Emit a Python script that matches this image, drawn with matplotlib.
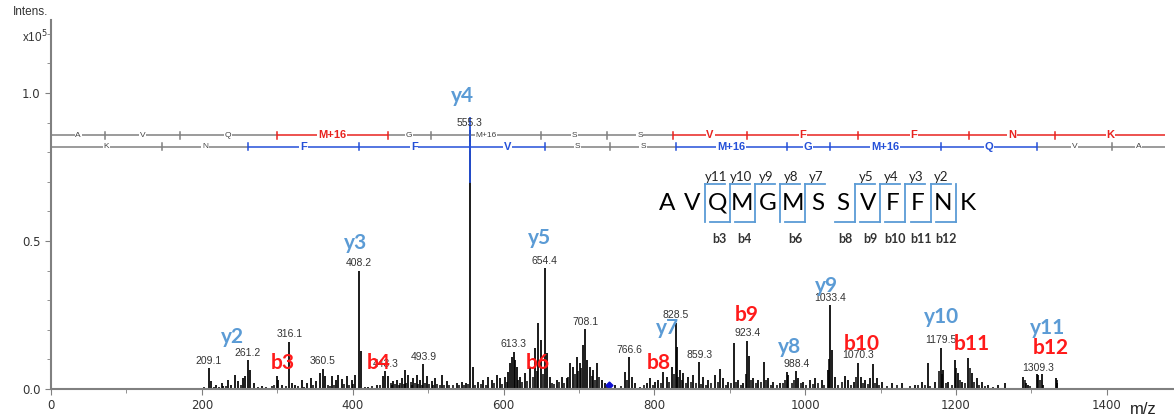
import numpy as np
import matplotlib.pyplot as plt
from matplotlib.ticker import MultipleLocator

# ---- data: peaks (m/z, intensity in 1e5) ----
main_mz = [209.1, 212.3, 218.5, 226.4, 228.6, 235.3, 238.8, 244.1, 248.5, 255.1, 257.4, 261.2, 264.0, 269.7,
           279.5, 299.3, 301.6, 306.9, 316.1, 319.2, 323.7, 332.5, 339.1, 344.9, 351.1, 356.8, 360.5, 363.4,
           372.3, 377.6, 381.1, 385.5, 392.2, 398.8, 403.2, 408.2, 411.2, 420.9, 431.9, 440.8, 443.3, 447.4,
           454.0, 458.5, 465.1, 469.5, 473.9, 480.5, 485.0, 489.4, 493.9, 498.2, 504.9, 509.3, 518.1, 524.7,
           538.0, 544.6, 550.4, 555.3, 559.2, 566.7, 573.4, 580.0, 584.4, 591.0, 595.5, 602.1, 606.5, 608.7,
           611.0, 613.3, 615.4, 617.6, 622.0, 628.6, 635.2, 641.9, 646.3, 649.4, 654.4, 657.3, 661.8, 670.6,
           677.2, 683.9, 688.3, 691.8, 697.1, 701.5, 705.1, 708.1, 711.3, 714.8, 719.2, 723.6, 730.3, 734.7,
           747.9, 761.2, 766.6, 770.0, 774.5, 790.0, 794.4, 801.0, 805.4, 812.0, 816.4, 823.1, 828.5, 829.7,
           834.1, 838.6, 845.2, 851.8, 859.3, 865.1, 871.7, 880.5, 887.2, 891.6, 898.2, 905.7, 911.5, 918.1,
           923.4, 926.0, 931.4, 938.0, 945.9, 951.2, 957.9, 966.7, 975.6, 977.8, 988.4, 991.0, 997.7, 1006.5,
           1013.1, 1021.9, 1029.9, 1033.4, 1036.1, 1039.6, 1052.9, 1057.3, 1065.3, 1070.3, 1074.1, 1079.4,
           1086.0, 1089.6, 1094.9, 1101.5, 1114.8, 1128.0, 1145.7, 1154.6, 1162.5, 1172.2, 1179.5, 1183.3,
           1189.9, 1198.7, 1202.3, 1207.6, 1216.4, 1220.9, 1227.5, 1234.1, 1242.9, 1256.2, 1265.1, 1289.4,
           1292.9, 1295.1, 1307.0, 1309.3, 1313.7, 1315.9, 1332.7, 1334.4]
main_int = [0.071, 0.026, 0.015, 0.020, 0.010, 0.032, 0.015, 0.048, 0.026, 0.037, 0.045, 0.097, 0.065, 0.020,
            0.011, 0.043, 0.030, 0.015, 0.160, 0.020, 0.015, 0.030, 0.020, 0.037, 0.026, 0.054, 0.069, 0.043,
            0.043, 0.030, 0.048, 0.034, 0.043, 0.030, 0.048, 0.400, 0.127, 0.007, 0.015, 0.043, 0.060, 0.043,
            0.026, 0.030, 0.037, 0.065, 0.048, 0.037, 0.048, 0.030, 0.084, 0.043, 0.026, 0.037, 0.048, 0.026,
            0.019, 0.025, 0.021, 0.875, 0.075, 0.025, 0.030, 0.042, 0.030, 0.047, 0.036, 0.042, 0.059, 0.087,
            0.109, 0.126, 0.098, 0.075, 0.042, 0.053, 0.075, 0.137, 0.224, 0.166, 0.408, 0.120, 0.042, 0.030,
            0.042, 0.036, 0.087, 0.075, 0.109, 0.087, 0.149, 0.202, 0.098, 0.075, 0.064, 0.087, 0.030, 0.019,
            0.014, 0.059, 0.107, 0.042, 0.019, 0.019, 0.036, 0.025, 0.030, 0.059, 0.042, 0.075, 0.224, 0.143,
            0.064, 0.053, 0.042, 0.047, 0.090, 0.042, 0.030, 0.047, 0.068, 0.036, 0.025, 0.157, 0.030, 0.020,
            0.163, 0.110, 0.036, 0.030, 0.092, 0.036, 0.025, 0.020, 0.059, 0.047, 0.061, 0.036, 0.025, 0.030,
            0.036, 0.030, 0.064, 0.284, 0.132, 0.042, 0.044, 0.030, 0.025, 0.089, 0.042, 0.030,
            0.036, 0.083, 0.036, 0.025, 0.020, 0.020, 0.014, 0.025, 0.089, 0.025, 0.140, 0.064,
            0.025, 0.098, 0.053, 0.025, 0.104, 0.053, 0.036, 0.025, 0.014, 0.014, 0.019, 0.039,
            0.019, 0.014, 0.051, 0.047, 0.051, 0.014, 0.036, 0.019]

# small background peaks
noise_mz = [203.5, 215.8, 222.1, 231.7, 251.9, 274.3, 285.6, 292.4, 296.1, 311.3, 327.4, 335.8, 347.6, 367.2,
            369.8, 375.1, 388.7, 395.4, 401.0, 416.3, 425.8, 436.2, 450.6, 452.1, 456.3, 461.7, 463.2, 467.4,
            471.2, 476.8, 478.3, 482.9, 487.2, 491.6, 496.0, 501.4, 507.1, 511.8, 515.5, 521.3, 527.9, 532.6,
            541.2, 547.8, 553.0, 562.5, 569.8, 576.3, 587.9, 598.6, 604.2, 619.8, 625.1, 631.5, 638.7, 644.0,
            651.8, 664.5, 667.3, 674.0, 680.6, 686.1, 694.5, 699.3, 703.3, 716.9, 721.4, 726.8, 737.5, 756.2,
            764.0, 780.8, 786.3, 797.7, 808.6, 819.8, 826.0, 831.9, 836.2, 842.1, 848.5, 855.0, 862.4, 868.3,
            875.6, 884.0, 894.8, 901.5, 908.6, 915.0, 921.0, 928.7, 934.6, 941.2, 948.6, 954.5, 962.3, 970.9,
            973.2, 982.7, 985.5, 994.4, 1001.0, 1010.2, 1017.0, 1025.3, 1031.2, 1043.5, 1048.2, 1061.0, 1068.0,
            1077.0, 1083.2, 1092.0, 1098.4, 1108.0, 1121.5, 1138.3, 1150.0, 1158.8, 1166.0, 1177.0, 1181.5,
            1186.4, 1195.0, 1200.5, 1205.0, 1212.0, 1218.5, 1224.0, 1231.0, 1238.0, 1249.0, 1290.8, 1298.0,
            1311.5, 1333.5]
noise_int = [0.006, 0.008, 0.006, 0.009, 0.012, 0.008, 0.006, 0.010, 0.014, 0.009, 0.011, 0.008, 0.012, 0.015,
             0.010, 0.013, 0.016, 0.012, 0.018, 0.006, 0.009, 0.012, 0.020, 0.015, 0.018, 0.014, 0.020, 0.016,
             0.019, 0.022, 0.015, 0.020, 0.017, 0.014, 0.020, 0.016, 0.014, 0.018, 0.012, 0.015, 0.012, 0.015,
             0.012, 0.014, 0.018, 0.012, 0.016, 0.014, 0.020, 0.018, 0.025, 0.030, 0.022, 0.028, 0.040, 0.060,
             0.050, 0.020, 0.018, 0.022, 0.020, 0.040, 0.050, 0.060, 0.070, 0.045, 0.030, 0.040, 0.012, 0.010,
             0.030, 0.008, 0.012, 0.015, 0.020, 0.025, 0.050, 0.040, 0.030, 0.020, 0.025, 0.020, 0.018, 0.015,
             0.020, 0.025, 0.015, 0.020, 0.025, 0.012, 0.050, 0.030, 0.020, 0.025, 0.030, 0.015, 0.012, 0.020,
             0.030, 0.020, 0.030, 0.020, 0.012, 0.018, 0.020, 0.015, 0.100, 0.012, 0.025, 0.015, 0.040,
             0.020, 0.018, 0.020, 0.015, 0.010, 0.012, 0.010, 0.012, 0.015, 0.010, 0.060, 0.050,
             0.020, 0.015, 0.070, 0.030, 0.020, 0.070, 0.025, 0.015, 0.010, 0.008, 0.030, 0.010,
             0.030, 0.030]

# labelled peaks
label_mz = [209.1, 261.2, 316.1, 360.5, 408.2, 443.3, 493.9, 555.3, 613.3, 654.4, 708.1, 766.6, 828.5,
            859.3, 923.4, 988.4, 1033.4, 1070.3, 1179.5, 1309.3]
label_int = [0.071, 0.097, 0.160, 0.069, 0.400, 0.060, 0.084, 0.875, 0.126, 0.408, 0.202, 0.107, 0.224,
             0.090, 0.163, 0.061, 0.284, 0.089, 0.140, 0.047]

# fragment ion annotations (name, m/z, intensity position)
y_names = ['y2', 'y3', 'y4', 'y5', 'y7', 'y8', 'y9', 'y10', 'y11']
y_pos = [(241, 0.176), (404, 0.493), (545, 0.99), (648, 0.51), (817, 0.205), (979, 0.142),
         (1028, 0.348), (1181, 0.242), (1322, 0.205)]
b_names = ['b3', 'b4', 'b6', 'b8', 'b9', 'b10', 'b11', 'b12']
b_pos = [(308, 0.088), (434, 0.088), (645, 0.088), (806, 0.088), (922, 0.249), (1075, 0.152),
         (1221, 0.152), (1326, 0.139)]

# sequence ladders (residue, boundary masses, matched flag)
b_res = ['A', 'V', 'Q', 'M+16', 'G', 'M+16', 'S', 'S', 'V', 'F', 'F', 'N', 'K']
b_mass = [0, 72.04, 171.11, 299.17, 446.21, 503.23, 650.27, 737.30, 824.34, 923.40, 1070.48,
          1217.55, 1331.59, 1477.7]
b_hit = [0, 0, 0, 1, 0, 0, 0, 0, 1, 1, 1, 1, 1]
y_res = ['K', 'N', 'F', 'F', 'V', 'S', 'S', 'M+16', 'G', 'M+16', 'Q', 'V', 'A']
y_mass = [0, 147.11, 261.16, 408.22, 555.29, 654.36, 741.39, 828.42, 975.46, 1032.48, 1179.51,
          1307.57, 1406.64, 1477.7]
y_hit = [0, 0, 1, 1, 1, 0, 0, 1, 1, 1, 1, 0, 0]

sequence = 'AVQMGMSSVFFNK'
seq_y_seen = [11, 10, 9, 8, 7, 5, 4, 3, 2]
seq_b_seen = [3, 4, 6, 8, 9, 10, 11, 12]

# ---- figure ----
W, H = 1174, 419
fig = plt.figure(figsize=(W / 100, H / 100), dpi=100)
ax = fig.add_axes([51 / W, 1 - 389 / H, 1 - 51 / W, 369 / H])

GRAY = '#808080'
RED = '#e8231f'
BLUE = '#2450d8'
LBLUE = '#5b9bd5'
plt.rcParams['font.family'] = ['Liberation Sans', 'DejaVu Sans']

ax.vlines(noise_mz, 0, noise_int, color='black', lw=1.1)
ax.vlines(main_mz, 0, main_int, color='black', lw=1.25)
ax.plot([740], [0.012], 'D', color='#1010d0', ms=3.5)

for mz, h in zip(label_mz, label_int):
    ax.text(mz, h + 0.008, f'{mz:.1f}', ha='center', va='bottom', fontsize=7.5, color='#333333')

for name, (x, y) in zip(y_names, y_pos):
    ax.text(x, y, name, ha='center', va='center', fontsize=15, fontweight='bold',
            color=LBLUE, family='Lato')
for name, (x, y) in zip(b_names, b_pos):
    ax.text(x, y, name, ha='center', va='center', fontsize=15, fontweight='bold',
            color='#ff1a1a', family='Lato')


def ladder(res, mass, hit, yrow, col):
    n = len(res)
    for i in range(n):
        c = col if hit[i] else GRAY
        ax.plot([mass[i], mass[i + 1]], [yrow, yrow], color=c, lw=1.1, solid_capstyle='butt')
        mid = (mass[i] + mass[i + 1]) / 2
        if hit[i]:
            ax.text(mid, yrow, res[i], ha='center', va='center', fontsize=8, fontweight='bold', color=c,
                    bbox=dict(facecolor='white', edgecolor='none', pad=0.6))
        else:
            ax.text(mid, yrow, res[i], ha='center', va='center', fontsize=6, color='#444444',
                    bbox=dict(facecolor='white', edgecolor='none', pad=0.6))
    for i in range(1, n):
        c = col if (hit[i - 1] or hit[i]) else GRAY
        ax.plot([mass[i], mass[i]], [yrow - 0.012, yrow + 0.012], color=c, lw=1.1)


ladder(b_res, b_mass, b_hit, 0.858, RED)
ladder(y_res, y_mass, y_hit, 0.818, BLUE)
# y4 marker on the base peak
ax.plot([y_mass[4], y_mass[4]], [0.70, 0.915], color=BLUE, lw=1.3)

ax.set_xlim(0, 1489)
ax.set_ylim(0, 1.247)
ax.xaxis.set_major_locator(MultipleLocator(200))
ax.xaxis.set_minor_locator(MultipleLocator(100))
ax.yaxis.set_major_locator(MultipleLocator(0.5))
ax.yaxis.set_minor_locator(MultipleLocator(0.1))
ax.yaxis.set_major_formatter(plt.FuncFormatter(lambda v, p: f'{v:.1f}'))
for s in ['top', 'right']:
    ax.spines[s].set_visible(False)
for s in ['left', 'bottom']:
    ax.spines[s].set_color(GRAY)
    ax.spines[s].set_linewidth(1.5)
ax.tick_params(which='both', direction='out', color=GRAY, labelsize=8.5, labelcolor='#333333')
ax.tick_params(which='major', length=4)
ax.tick_params(which='minor', length=3)

fig.text(48 / W, 1 - 12 / H, 'Intens.', ha='right', va='center', fontsize=8.5, color='#333333')
fig.text(48 / W, 1 - 37 / H, 'x10$^5$', ha='right', va='center', fontsize=8.5, color='#333333')
fig.text(1143 / W, 1 - 409 / H, 'm/z', ha='center', va='center', fontsize=12, color='#222222')

# ---- sequence coverage inset (pixel coordinates) ----
ins = fig.add_axes([640 / W, 1 - 250 / H, 360 / W, 85 / H])
ins.set_xlim(640, 1000)
ins.set_ylim(250, 165)
ins.axis('off')
x0, step = 667, 25.1
top, bot = 184, 222
for k, ch in enumerate(sequence):
    ins.text(x0 + k * step, 203, ch, ha='center', va='center', fontsize=17.5, family='Lato', color='black')
for k in range(len(sequence) - 1):
    xc = x0 + (k + 0.5) * step
    yi = len(sequence) - 1 - k
    bi = k + 1
    has_y = yi in seq_y_seen
    has_b = bi in seq_b_seen
    if has_y or has_b:
        ins.plot([xc, xc], [top, bot], color=LBLUE, lw=1.3)
    if has_y:
        ins.plot([xc, xc + 20], [top, top], color=LBLUE, lw=1.3)
        ins.text(xc + 11, top - 1, f'y{yi}', ha='center', va='bottom', fontsize=9.5, color='#222222',
                 family='Lato')
    if has_b:
        ins.plot([xc - 20, xc], [bot, bot], color=LBLUE, lw=1.3)
        ins.text(xc - 10, 239, f'b{bi}', ha='center', va='center', fontsize=9, fontweight='bold',
                 color='#333333', family='Lato')

fig.savefig('out.png', dpi=100)
